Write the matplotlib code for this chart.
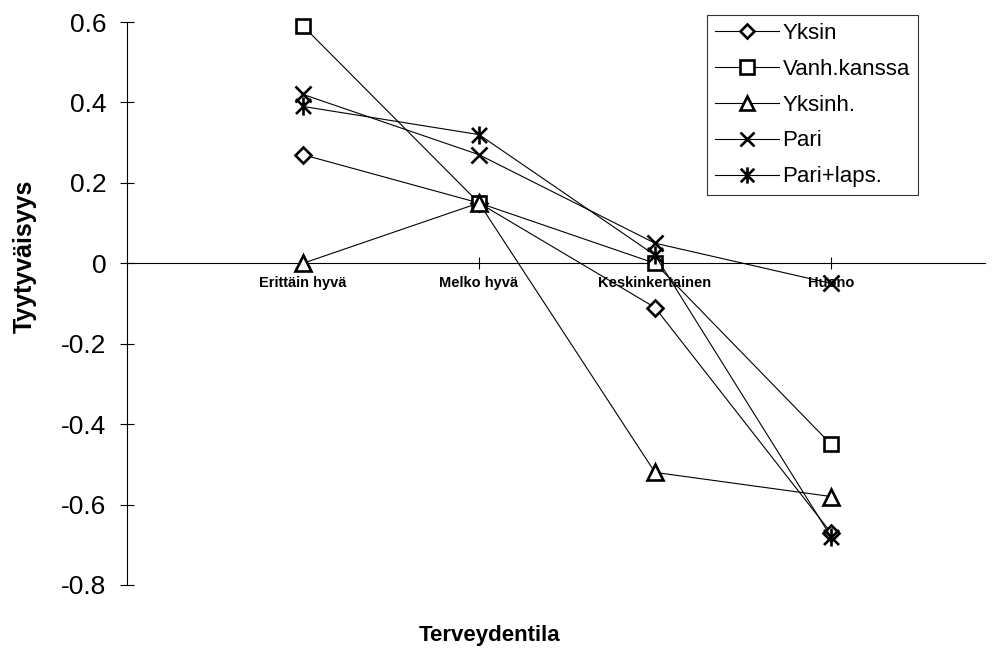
import numpy as np
from matplotlib import pyplot as plt
from matplotlib.path import Path

plt.rcParams['font.family'] = ['Liberation Sans', 'DejaVu Sans']

categories = ["Erittäin hyvä", "Melko hyvä", "Keskinkertainen", "Huono"]
yksin = [0.27, 0.15, -0.11, -0.67]
vanh_kanssa = [0.59, 0.15, 0.00, -0.45]
yksinh = [0.00, 0.15, -0.52, -0.58]
pari = [0.42, 0.27, 0.05, -0.05]
pari_laps = [0.39, 0.32, 0.02, -0.68]

# X with a vertical stroke, like the Excel star marker
star = Path([(-1, -1), (1, 1), (-1, 1), (1, -1), (0, -1.2), (0, 1.2)],
            [Path.MOVETO, Path.LINETO, Path.MOVETO, Path.LINETO, Path.MOVETO, Path.LINETO])

series = [
    ("Yksin", yksin, "D", 8),
    ("Vanh.kanssa", vanh_kanssa, "s", 10.5),
    ("Yksinh.", yksinh, "^", 11),
    ("Pari", pari, "x", 11),
    ("Pari+laps.", pari_laps, star, 13),
]

fig = plt.figure(figsize=(9.95, 6.51), dpi=100)
ax = fig.add_axes([127 / 995, (651 - 585) / 651, (985 - 127) / 995, (585 - 22) / 651])

x = np.arange(1, len(categories) + 1)
for name, vals, mk, ms in series:
    ax.plot(x, vals, color="black", lw=0.8, marker=mk, markersize=ms,
            markerfacecolor="white", markeredgecolor="black", markeredgewidth=1.9,
            label=name, clip_on=False, zorder=3)

ax.set_xlim(0, 4.875)
ax.set_ylim(-0.8, 0.6)

ax.spines['top'].set_visible(False)
ax.spines['right'].set_visible(False)
ax.spines['bottom'].set_position(('data', 0))
ax.spines['left'].set_linewidth(0.8)
ax.spines['bottom'].set_linewidth(0.8)

ax.set_yticks(np.arange(-0.8, 0.61, 0.2))
ax.set_yticklabels(["-0.8", "-0.6", "-0.4", "-0.2", "0", "0.2", "0.4", "0.6"], fontsize=19)
ax.tick_params(axis='y', direction='inout', length=10, width=0.8, pad=10)

ax.set_xticks(x)
ax.set_xticklabels(categories, fontsize=10.5, fontweight='bold')
ax.tick_params(axis='x', direction='inout', length=8, width=0.8, pad=5)

fig.text(490 / 995, 1 - 635 / 651, "Terveydentila", ha='center', va='center',
         fontsize=16, fontweight='bold')
fig.text(25 / 995, 1 - 256 / 651, "Tyytyväisyys", ha='center', va='center',
         rotation=90, fontsize=18, fontweight='bold')

leg = ax.legend(loc='upper left', bbox_to_anchor=((707 - 127) / 858, 1 + 7 / 563),
                fontsize=16, frameon=True, fancybox=False, handlelength=2.9,
                handletextpad=0.15, borderpad=0.35, labelspacing=0.67, borderaxespad=0)
leg.get_frame().set_edgecolor("black")
leg.get_frame().set_linewidth(0.8)
for h in leg.legend_handles:
    h.set_markersize(h.get_markersize() * 0.9)

fig.savefig("out.png", dpi=100)
